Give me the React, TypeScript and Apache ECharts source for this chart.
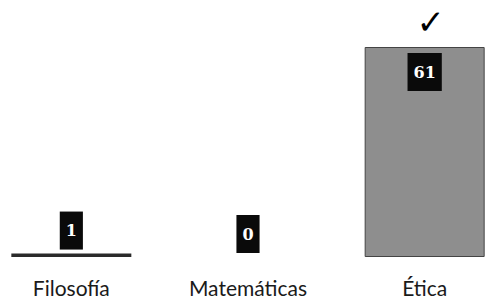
import React, { useEffect, useRef } from "react";
import * as echarts from "echarts";

const categories = ["Filosofía", "Matemáticas", "Ética"];
const values = [1, 0, 61];
const checkedCategory = "Ética";

export default function App() {
  const ref = useRef<HTMLDivElement>(null);
  useEffect(() => {
    const chart = echarts.init(ref.current!, null, { renderer: "svg" });
    const maxV = Math.max(...values);
    chart.setOption({
      animation: false,
      grid: { left: 0, right: 0, top: 47, bottom: 46, containLabel: false },
      xAxis: {
        type: "category",
        data: categories,
        axisLine: { show: false },
        axisTick: { show: false },
        axisLabel: {
          margin: 20,
          fontFamily: "Lato",
          fontSize: 21,
          color: "#1a1a1a",
        },
      },
      yAxis: {
        type: "value",
        min: 0,
        max: maxV,
        show: false,
        splitLine: { show: false },
      },
      series: [
        {
          type: "bar",
          barWidth: 120,
          data: values.map((v) => ({
            value: v,
            itemStyle:
              v === 0
                ? { borderWidth: 0 }
                : v < 5
                ? { color: "#2a2a2a", borderWidth: 0 }
                : {},
            label: {
              show: true,
              position: v > 10 ? "insideTop" : "top",
              distance: v > 10 ? 6 : 4,
            },
          })),
          itemStyle: {
            color: "#8e8e8e",
            borderColor: "#444444",
            borderWidth: 1,
          },
          label: {
            show: true,
            color: "#ffffff",
            backgroundColor: "#0a0a0a",
            fontFamily: "DejaVu Serif",
            fontWeight: "bold",
            fontSize: 16,
            padding: [11, 6, 11, 6],
          },
          markPoint: {
            symbol: "circle",
            symbolSize: 1,
            itemStyle: { color: "rgba(0,0,0,0)" },
            data: [
              {
                coord: [checkedCategory, values[categories.indexOf(checkedCategory)]],
                label: {
                  show: true,
                  position: "inside",
                  formatter: "✓",
                  offset: [6, -25],
                  fontSize: 34,
                  fontWeight: "bold",
                  color: "#000000",
                  fontFamily: "DejaVu Sans",
                },
              },
            ],
          },
        },
      ],
    });
    return () => chart.dispose();
  }, []);
  return (
    <div
      ref={ref}
      style={{ width: 530, height: 303, position: "absolute", left: -17, top: 0 }}
    />
  );
}
